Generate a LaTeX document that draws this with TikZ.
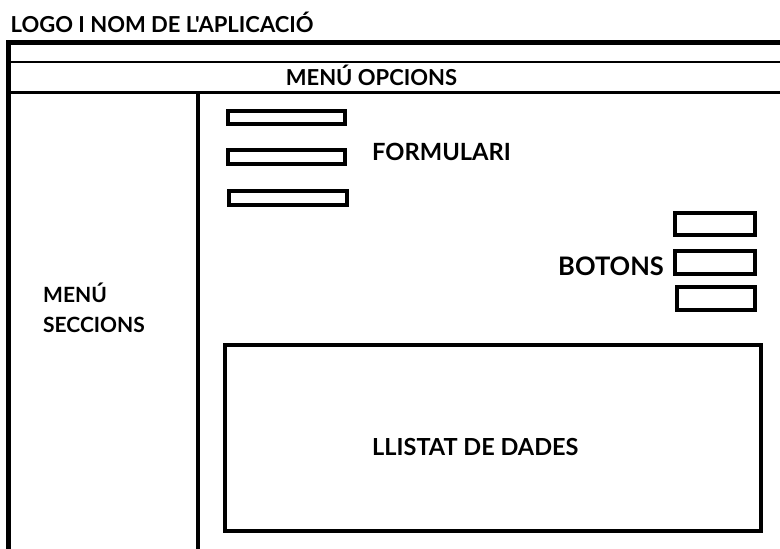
\documentclass[tikz,border=0pt]{standalone}
\usepackage{fontspec}
\newfontfamily\lblfont{Lato}[Ligatures=TeXOff]
\begin{document}
\begin{tikzpicture}[x=1pt,y=-1pt,
  lbl/.style={inner sep=0pt,font=\lblfont\fontsize{#1}{#1}\selectfont\bfseries},
  lbl/.default=22,
  field/.style={draw=black,line width=4pt}]
\useasboundingbox (0,0) rectangle (780,549);
% window frame
\draw[line width=5pt] (8.5,549) -- (8.5,42.5) -- (782,42.5);
\draw[line width=2.5pt] (8,62) -- (782,62);
\draw[line width=3pt] (8,92) -- (782,92);
\draw[line width=3pt] (9.5,92) -- (9.5,551);
\draw[line width=3.5pt] (198,92) -- (198,551);
% labels
\node[lbl, anchor=base west] (logo) at (10.5,32) {LOGO I NOM DE L'APLICACIÓ};
\node[lbl, anchor=base] (menuop) at (371.5,85) {MENÚ OPCIONS};
\node[lbl=21, anchor=base west] (menusec) at (43,302) {MENÚ};
\node[lbl=21, anchor=base west] (menusec2) at (43,332) {SECCIONS};
\node[lbl=23.7, anchor=base west] (form) at (372,160) {FORMULARI};
\node[lbl=25.5, anchor=base west] (botons) at (558,275) {BOTONS};
\node[lbl=23.5, anchor=base west] (llistat) at (372,455) {LLISTAT DE DADES};
% form fields
\draw[field] (228,111) rectangle (345,124);
\draw[field] (228,150) rectangle (345,164);
\draw[field] (229,191) rectangle (347,205);
% buttons
\draw[field] (675,213) rectangle (755,235);
\draw[field] (675,251) rectangle (755,274);
\draw[field] (677,287) rectangle (755,310);
% data list
\draw[field] (225,345) rectangle (760.5,531);
\end{tikzpicture}
\end{document}
